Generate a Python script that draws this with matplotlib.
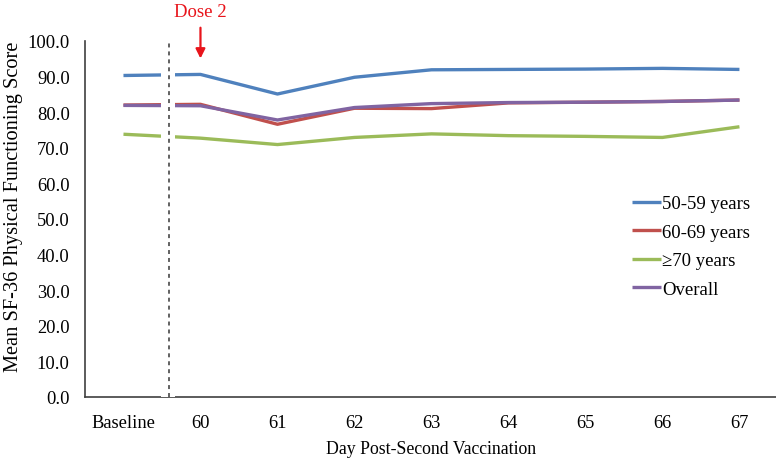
import matplotlib
matplotlib.use("Agg")
import matplotlib.pyplot as plt

categories = ["Baseline", "60", "61", "62", "63", "64", "65", "66", "67"]
series_names = ["50-59 years", "60-69 years", "\u226570 years", "Overall"]
s_50_59 = [90.3, 90.6, 85.1, 89.8, 91.9, 92.0, 92.1, 92.3, 92.0]
s_60_69 = [82.0, 82.2, 76.6, 81.1, 81.0, 82.6, 82.8, 83.0, 83.4]
s_70 = [73.8, 72.7, 70.9, 72.9, 73.9, 73.4, 73.2, 72.9, 75.9]
s_overall = [81.9, 81.8, 77.8, 81.3, 82.4, 82.7, 82.8, 83.0, 83.4]
y_ticks = [0, 10, 20, 30, 40, 50, 60, 70, 80, 90, 100]

colors = ["#4F81BD", "#C0504D", "#9BBB59", "#8064A2"]

plt.rcParams['font.family'] = ['Liberation Serif', 'DejaVu Serif']

fig = plt.figure(figsize=(7.76, 4.6), dpi=100)
ax = fig.add_axes([0.1095, 0.1348, 0.893, 0.774])

x = list(range(len(categories)))
for vals, name, c in zip([s_50_59, s_60_69, s_70, s_overall], series_names, colors):
    ax.plot(x, vals, color=c, lw=2.4, label=name, solid_capstyle='butt', zorder=3)

# white gap around the dashed separator
ax.axvspan(0.49, 0.675, color='white', zorder=4, lw=0)
ax.axvline(0.585, ymin=0, ymax=1, color='#555555', ls=(0, (2.2, 2.2)), lw=1.3, zorder=5)

ax.set_xlim(-0.5, 8.5)
ax.set_ylim(0, 100)
ax.set_yticks(y_ticks)
ax.set_yticklabels([f"{v:.1f}" for v in y_ticks], fontsize=13.3)
ax.set_xticks(x)
ax.set_xticklabels(categories, fontsize=13.3)
ax.tick_params(axis='both', length=0)
ax.tick_params(axis='y', pad=11)
ax.tick_params(axis='x', pad=12)

for s in ['top', 'right']:
    ax.spines[s].set_visible(False)
for s in ['left', 'bottom']:
    ax.spines[s].set_color('#404040')
    ax.spines[s].set_linewidth(1.2)

ax.set_ylabel("Mean SF-36 Physical Functioning Score", fontsize=14.7)
ax.yaxis.set_label_coords(-0.09, 0.537)
ax.set_xlabel("Day Post-Second Vaccination", fontsize=12.8, labelpad=7)

ax.annotate("", xy=(1, 94.3), xytext=(1, 104.5),
            arrowprops=dict(arrowstyle='-|>', color='#E8141B', lw=1.6, mutation_scale=14),
            annotation_clip=False, zorder=6)
ax.text(1, 108.3, "Dose 2", color='#E8141B', fontsize=13.5, ha='center', va='center', clip_on=False)

leg = ax.legend(loc='upper left', bbox_to_anchor=(0.765, 0.614), frameon=False, fontsize=13.5,
                handlelength=1.55, handletextpad=0.05, labelspacing=0.6)

fig.savefig("out.png", dpi=100)
